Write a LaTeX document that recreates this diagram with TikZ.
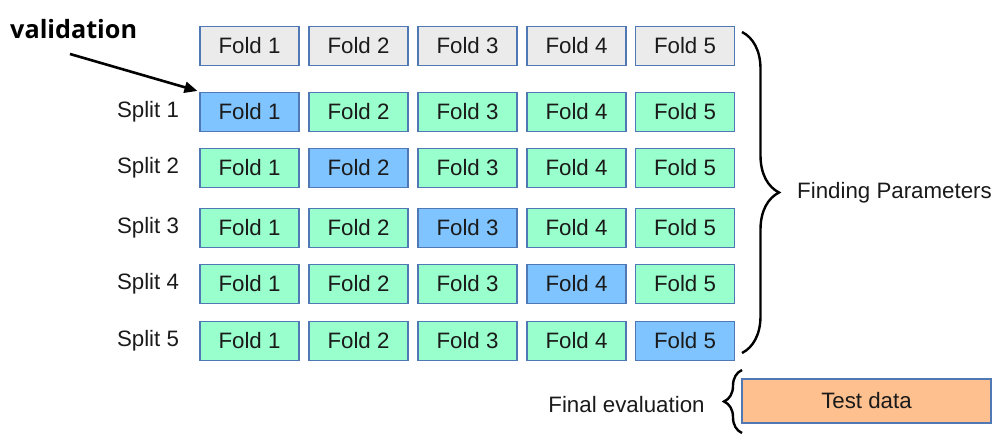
\documentclass[tikz,border=0pt]{standalone}
\usepackage{fontspec}
\setmainfont{Liberation Sans}
\newfontfamily\valfont{Open Sans}
\usetikzlibrary{arrows.meta,decorations.pathreplacing}
\definecolor{boxedge}{HTML}{4F78B4}
\definecolor{greyfill}{HTML}{EBEBEB}
\definecolor{greenfill}{HTML}{99FFCC}
\definecolor{bluefill}{HTML}{80C4FF}
\definecolor{orangefill}{HTML}{FFC08F}
\definecolor{txt}{HTML}{1A1A1A}
\begin{document}
\begin{tikzpicture}[x=1pt,y=-1pt,
  fold/.style={draw=boxedge,line width=1.1pt,minimum width=99pt,minimum height=39pt,inner sep=0pt,font=\fontsize{22.3}{24}\selectfont,text=txt},
  gfold/.style={fold,fill=greyfill},
  tfold/.style={fold,fill=greenfill},
  vfold/.style={fold,fill=bluefill},
  lbl/.style={font=\fontsize{22.3}{24}\selectfont,text=txt,inner sep=0pt},
  bracepath/.style={decorate,line width=2.4pt,black}
]
\useasboundingbox (0,0) rectangle (1000,438);
% header row
\foreach \i/\x in {1/249.5,2/358.5,3/467.5,4/576.5,5/685}{
  \node[gfold] (h\i) at (\x,46) {Fold \i};
}
% splits
\foreach \s/\y in {1/112,2/168,3/228,4/284,5/341}{
  \node[lbl] (lab\s) at (148,\y) {Split \s};
  \foreach \i/\x in {1/249.5,2/358.5,3/467.5,4/576.5,5/685}{
    \ifnum\i=\s
      \node[vfold] (s\s f\i) at (\x,\y) {Fold \i};
    \else
      \node[tfold] (s\s f\i) at (\x,\y) {Fold \i};
    \fi
  }
}
% validation label and arrow
\node[font=\valfont\bfseries\fontsize{25.2}{28}\selectfont,anchor=base west,inner sep=0pt] (val) at (10,39) {validation};
\coordinate (arrstart) at (70,54);
\draw[line width=2.6pt,-{Triangle[length=13pt,width=11pt]}] (arrstart) -- ([xshift=-2pt,yshift=1pt]s1f1.north west);
% finding parameters brace
\coordinate (bt) at (742,32);
\coordinate (bb) at (742,353);
\draw[bracepath,decoration={brace,amplitude=37pt,aspect=0.5}] (bt) -- (bb);
\node[lbl,anchor=west] (find) at (797,193) {Finding Parameters};
% test data
\node[fold,fill=orangefill,minimum width=249pt,minimum height=44pt] (test) at (866.5,401) {Test data};
\coordinate (st) at (742,370);
\coordinate (sb) at (742,433);
\draw[bracepath,decoration={brace,amplitude=18pt,aspect=0.5}] (sb) -- (st);
\node[lbl,anchor=center] (final) at (626.5,405) {Final evaluation};
\end{tikzpicture}
\end{document}
